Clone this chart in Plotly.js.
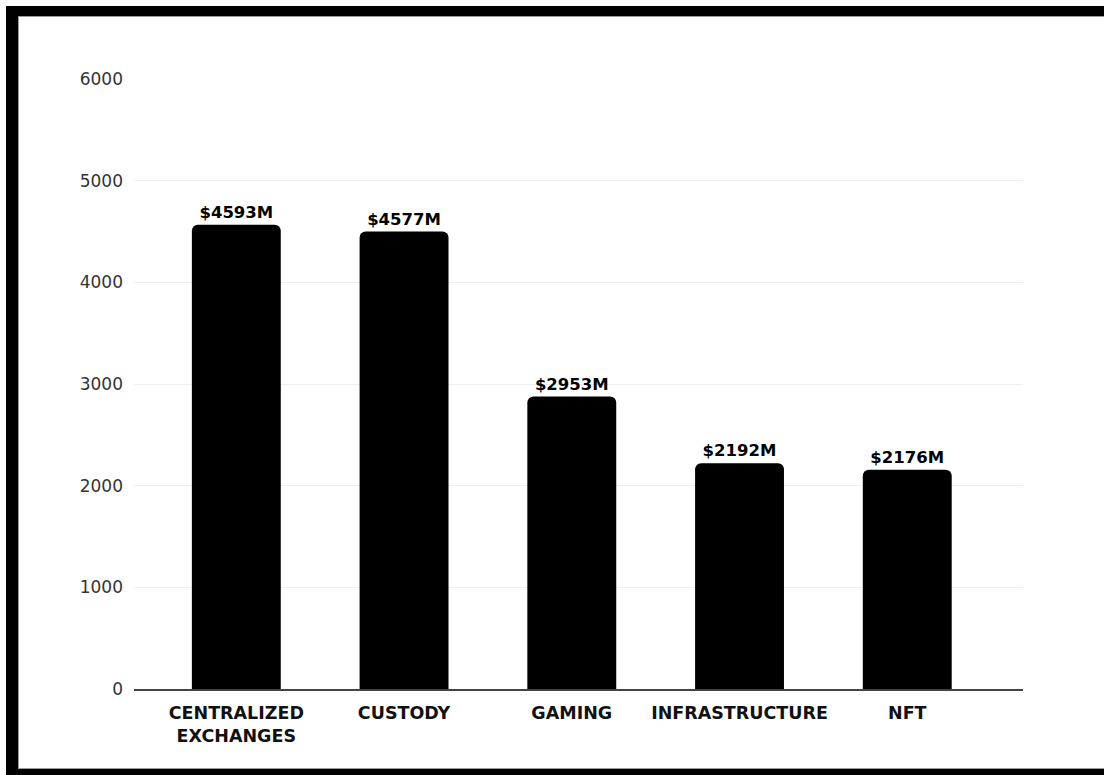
<!DOCTYPE html>
<html>
<head>
<meta charset="utf-8">
<script src="https://cdn.plot.ly/plotly-3.0.1.min.js"></script>
<style>
  html, body { margin: 0; padding: 0; background: #fff; overflow: hidden; }
  #wrap { position: relative; width: 1104px; height: 775px; overflow: hidden; }
  #chart { position: absolute; left: 0; top: 0; width: 1104px; height: 775px; }
  #frame {
    position: absolute; left: 6px; top: 6px; width: 1200px; height: 753px;
    border-left: 12px solid #000; border-top: 10px solid #000; border-bottom: 10px solid #000;
    box-shadow: inset 0 0 0 1px #9a9a9a; pointer-events: none; z-index: 5;
  }
</style>
</head>
<body>
<div id="wrap">
  <div id="chart"></div>
  <div id="frame"></div>
</div>
<script>
// Categories (x axis)
const categories = ['CENTRALIZED<br>EXCHANGES', 'CUSTODY', 'GAMING', 'INFRASTRUCTURE', 'NFT'];
// Bar heights as drawn in the picture (millions USD)
const barValues = [4567, 4500, 2877, 2221, 2156];
// Value labels printed above the bars
const valueLabels = ['$4593M', '$4577M', '$2953M', '$2192M', '$2176M'];
// Y axis ticks
const yTicks = [0, 1000, 2000, 3000, 4000, 5000, 6000];

const FONT = 'DejaVu Sans, Liberation Sans, sans-serif';

const trace = {
  type: 'bar',
  x: categories,
  y: barValues,
  text: valueLabels,
  textposition: 'outside',
  textfont: { family: FONT, size: 16.5, weight: 'bold', color: '#000' },
  constraintext: 'none',
  cliponaxis: false,
  marker: { color: '#000', cornerradius: 6, line: { width: 0 } },
  hoverinfo: 'skip'
};

const layout = {
  width: 1104,
  height: 775,
  margin: { l: 134, r: 81, t: 79, b: 86 },
  paper_bgcolor: '#fff',
  plot_bgcolor: '#fff',
  showlegend: false,
  bargap: 0.47,
  font: { family: FONT },
  xaxis: {
    type: 'category',
    range: [-0.61, 4.69],
    showgrid: false,
    showline: true,
    linecolor: '#444',
    linewidth: 2,
    ticks: '',
    tickfont: { family: FONT, size: 17.5, weight: 'bold', color: '#111' },
    ticklabelstandoff: 7,
    fixedrange: true
  },
  yaxis: {
    range: [0, 6000],
    tickvals: yTicks,
    ticktext: yTicks.map(String),
    showgrid: true,
    gridcolor: '#efefef',
    gridwidth: 1,
    zeroline: false,
    showline: false,
    ticks: '',
    tickfont: { family: FONT, size: 17, color: '#333' },
    ticklabelstandoff: 10,
    fixedrange: true
  }
};

Plotly.newPlot('chart', [trace], layout, { staticPlot: true, displayModeBar: false });
</script>
</body>
</html>
